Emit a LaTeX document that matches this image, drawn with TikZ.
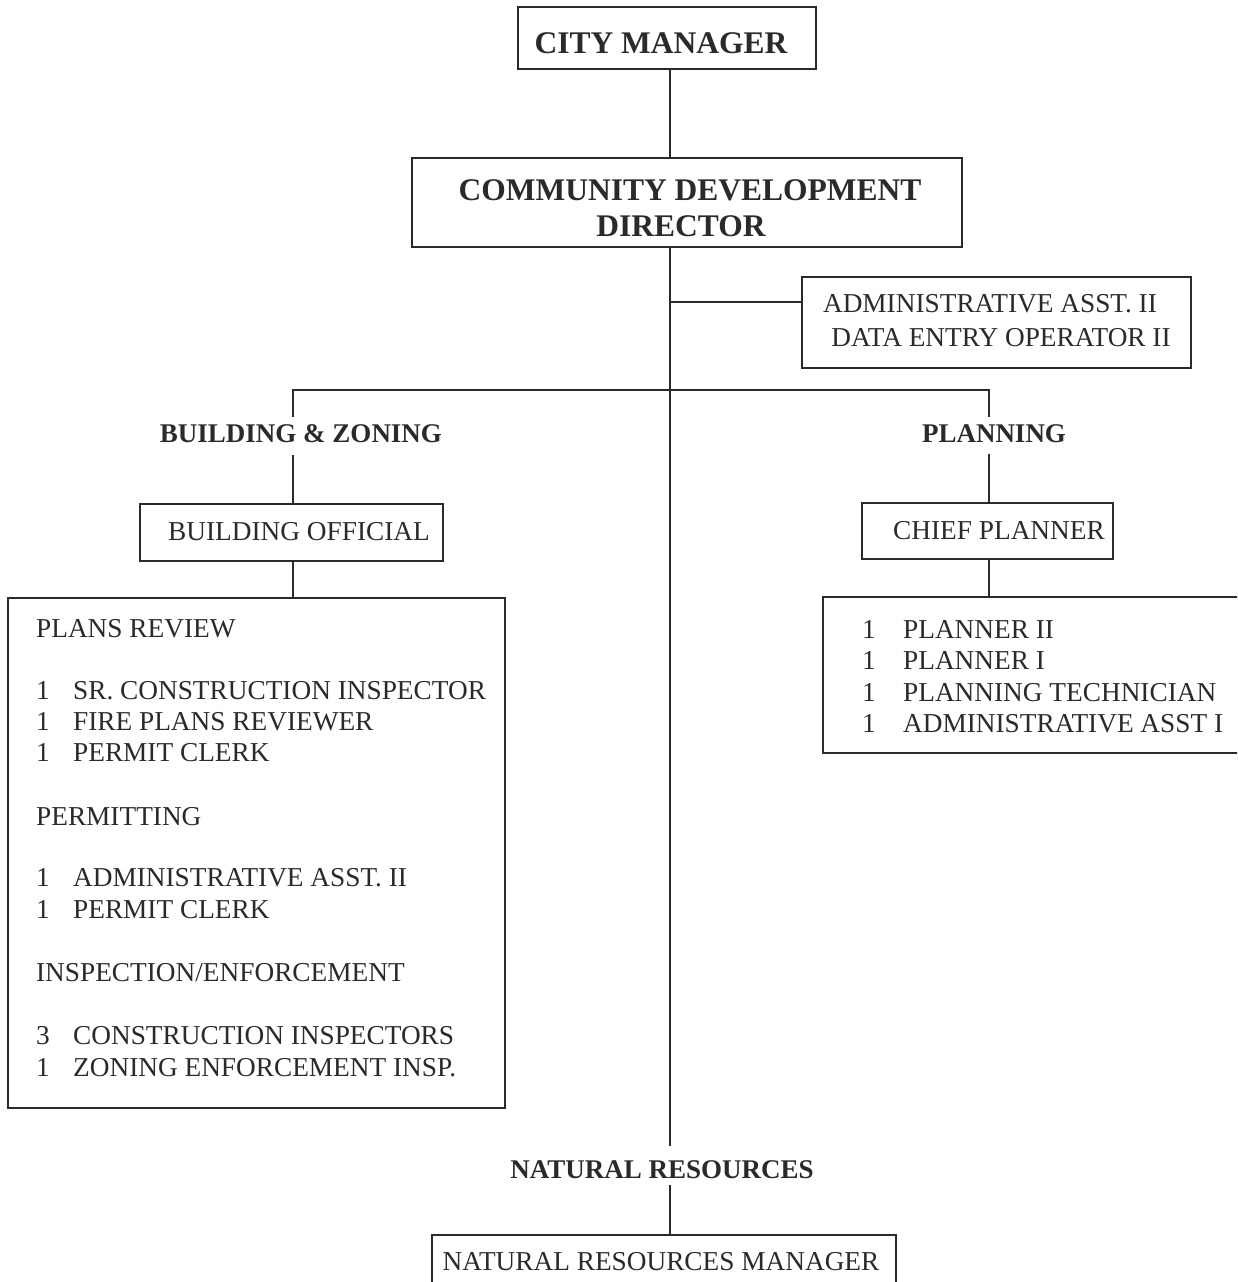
\documentclass[tikz,border=0pt]{standalone}
\usepackage{fontspec}
\setmainfont{Liberation Serif}
\begin{document}
\definecolor{ink}{HTML}{2A2A2A}
\begin{tikzpicture}[x=1pt,y=-1pt,
  line width=2.3pt, draw=ink, text=ink,
  box/.style={draw=ink, rectangle, inner sep=0pt, line width=2.3pt},
  head/.style={inner sep=0pt, anchor=base, font=\fontsize{31.5}{36}\selectfont\bfseries},
  sect/.style={inner sep=0pt, anchor=base, font=\fontsize{27}{31}\selectfont\bfseries},
  plain/.style={inner sep=0pt, anchor=base, font=\fontsize{27.3}{31}\selectfont},
  item/.style={inner sep=0pt, anchor=base west, font=\fontsize{27.3}{31}\selectfont},
  wire/.style={draw=ink, line width=2.3pt}]
\useasboundingbox (0,0) rectangle (1237,1282);
\fill[white] (0,0) rectangle (1237,1282);
\clip (0,0) rectangle (1237,1282);

% boxes
\node[box, minimum width=298pt, minimum height=62pt] (cm)  at (667,38) {};
\node[box, minimum width=550pt, minimum height=89pt] (cdd) at (687,202.5) {};
\node[box, minimum width=389pt, minimum height=91pt] (adm) at (996.5,322.5) {};
\node[box, minimum width=303pt, minimum height=57pt] (bo)  at (291.5,532.5) {};
\node[box, minimum width=251pt, minimum height=56pt] (cp)  at (987.5,531) {};
\node[box, minimum width=497pt, minimum height=510pt] (bz) at (256.5,853) {};
\node[box, minimum width=440pt, minimum height=156pt] (pl) at (1043,675) {};
\node[box, minimum width=464pt, minimum height=80pt] (nrm) at (664,1275) {};

% box texts
\node[head] (cmt) at (661,53) {CITY MANAGER};
\node[head] (cddt1) at (690,200) {COMMUNITY DEVELOPMENT};
\node[head] (cddt2) at (681,236) {DIRECTOR};
\node[plain] (admt1) at (990,312) {ADMINISTRATIVE ASST. II};
\node[plain] (admt2) at (1001,346) {DATA ENTRY OPERATOR II};
\node[plain] (bot) at (299,540) {BUILDING OFFICIAL};
\node[plain] (cpt) at (999,539) {CHIEF PLANNER};
\node[plain] (nrmt) at (661,1270) {NATURAL RESOURCES MANAGER};

% division headings
\node[sect] (bzl) at (301,442) {BUILDING \& ZONING};
\node[sect] (pll) at (994,442) {PLANNING};
\node[sect] (nrl) at (662,1178) {NATURAL RESOURCES};

% building & zoning staff
\node[item] (s1) at (35,637) {PLANS REVIEW};
\node[item] (n1) at (35,699) {1};  \node[item] (r1) at (72,699) {SR. CONSTRUCTION INSPECTOR};
\node[item] (n2) at (35,730) {1};  \node[item] (r2) at (72,730) {FIRE PLANS REVIEWER};
\node[item] (n3) at (35,761) {1};  \node[item] (r3) at (72,761) {PERMIT CLERK};
\node[item] (s2) at (35,825) {PERMITTING};
\node[item] (n4) at (35,886) {1};  \node[item] (r4) at (72,886) {ADMINISTRATIVE ASST. II};
\node[item] (n5) at (35,918) {1};  \node[item] (r5) at (72,918) {PERMIT CLERK};
\node[item] (s3) at (35,981) {INSPECTION/ENFORCEMENT};
\node[item] (n6) at (35,1044) {3};  \node[item] (r6) at (72,1044) {CONSTRUCTION INSPECTORS};
\node[item] (n7) at (35,1076) {1};  \node[item] (r7) at (72,1076) {ZONING ENFORCEMENT INSP.};

% planning staff
\node[item] (p1n) at (861,638) {1}; \node[item] (p1) at (902,638) {PLANNER II};
\node[item] (p2n) at (861,669) {1}; \node[item] (p2) at (902,669) {PLANNER I};
\node[item] (p3n) at (861,701) {1}; \node[item] (p3) at (902,701) {PLANNING TECHNICIAN};
\node[item] (p4n) at (861,732) {1}; \node[item] (p4) at (902,732) {ADMINISTRATIVE ASST I};

% connector points
\coordinate (trk)  at (670,302);
\coordinate (nrup) at (670,1146);
\coordinate (nrdn) at (670,1185);
\coordinate (bl)   at (293,390);
\coordinate (br)   at (989,390);
\coordinate (blup) at (293,417);
\coordinate (brup) at (989,417);
\coordinate (bldn) at (293,455);
\coordinate (brdn) at (989,454);

% connectors
\draw[wire] (cm.south -| trk) -- (cdd.north -| trk);
\draw[wire] (cdd.south -| trk) -- (nrup);
\draw[wire] (trk) -- (adm.west |- trk);
\draw[wire] (blup) -- (bl) -- (br) -- (brup);
\draw[wire] (bldn) -- (bo.north -| bldn);
\draw[wire] (brdn) -- (cp.north -| brdn);
\draw[wire] (bo.south -| bldn) -- (bz.north -| bldn);
\draw[wire] (cp.south -| brdn) -- (pl.north -| brdn);
\draw[wire] (nrdn) -- (nrm.north -| nrdn);
\end{tikzpicture}
\end{document}
